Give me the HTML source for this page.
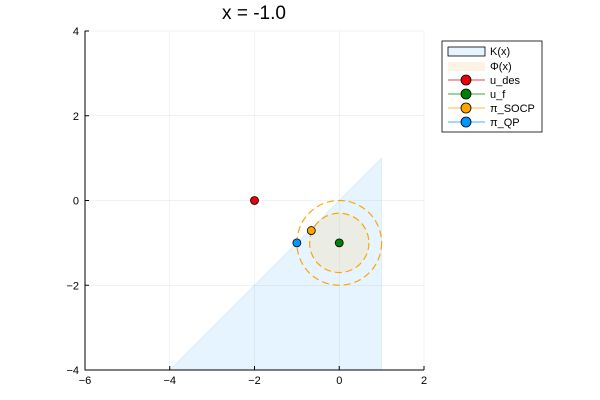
<!DOCTYPE html>
<html><head><meta charset="utf-8"><style>body{margin:0;background:#fff}svg{display:block}text{font-family:"Liberation Sans","DejaVu Sans",sans-serif}</style></head>
<body>
<svg id="chart" width="600" height="400" xmlns="http://www.w3.org/2000/svg"></svg>
<script>
const xTicks=[-6,-4,-2,0,2];
const yTicks=[-4,-2,0,2,4];
const coneX=[-4,1,1];
const coneY=[-4,1,-4];
const circleCenter=[0,-1];
const innerRadius=[0.7];
const outerRadius=[1.0];
const pointNames=["u_des","u_f","π_SOCP","π_QP"];
const pointX=[-2,0,-0.66,-1];
const pointY=[0,-1,-0.71,-1];
const pointColors=["#e8000b","#008000","#ffa500","#0096ff"];
const L=85,R=424,T=31,B=370;
const sx=v=>L+(v+6)/8*(R-L);
const sy=v=>B-(v+4)/8*(B-T);
const svg=document.getElementById('chart');
const NS="http://www.w3.org/2000/svg";
function mk(tag,attrs,parent){const e=document.createElementNS(NS,tag);for(const k in attrs)e.setAttribute(k,attrs[k]);(parent||svg).appendChild(e);return e;}
// grid
xTicks.forEach(t=>{const g=mk('line',{x1:sx(t),x2:sx(t),y1:T,y2:B,stroke:'#000','stroke-opacity':0.1,'stroke-width':0.5});});
yTicks.forEach(t=>{const g=mk('line',{x1:L,x2:R,y1:sy(t),y2:sy(t),stroke:'#000','stroke-opacity':0.1,'stroke-width':0.5});});
// cone
const pts=coneX.map((x,i)=>sx(x)+','+sy(coneY[i])).join(' ');
const cone=mk('polygon',{points:pts,fill:'#0096ff','fill-opacity':0.1,stroke:'#0096ff','stroke-opacity':0.1});


const cx=sx(circleCenter[0]),cy=sy(circleCenter[1]),u=(R-L)/8;
const phi=mk('circle',{cx:cx,cy:cy,r:innerRadius[0]*u,fill:'#f5deb3','fill-opacity':0.35,stroke:'none'});


[innerRadius[0],outerRadius[0]].forEach(r=>{const c=mk('circle',{cx:cx,cy:cy,r:r*u,fill:'none',stroke:'#ffa500','stroke-width':1.2,'stroke-dasharray':'7,4'});});
// axes frame
const ax=mk('path',{d:`M${L},${T}V${B}H${R}`,fill:'none',stroke:'#000','stroke-width':1});


xTicks.forEach(t=>{mk('line',{x1:sx(t),x2:sx(t),y1:B,y2:B-4,stroke:'#000'});const tx=mk('text',{x:sx(t),y:B+14,'font-size':11,'text-anchor':'middle'});tx.textContent=t==0?'0':String(t).replace('-','−');});
yTicks.forEach(t=>{mk('line',{x1:L,x2:L+4,y1:sy(t),y2:sy(t),stroke:'#000'});const tx=mk('text',{x:L-6,y:sy(t)+4,'font-size':11,'text-anchor':'end'});tx.textContent=t==0?'0':String(t).replace('-','−');});
// points
pointX.forEach((x,i)=>{const p=mk('circle',{cx:sx(x),cy:sy(pointY[i]),r:4,fill:pointColors[i],stroke:'#000','stroke-width':0.8});});
const title=mk('text',{x:254,y:19,'font-size':19,'text-anchor':'middle'});
title.textContent='x = -1.0';


// legend
const lg=mk('g',{});


mk('rect',{x:442,y:41,width:100,height:91,fill:'#fff',stroke:'#000','stroke-width':0.8},lg);
const ly=[51,66,80,94,108,122];
mk('rect',{x:448,y:47,width:37,height:9,fill:'#e6f4ff',stroke:'#000','stroke-width':0.8},lg);
mk('rect',{x:448,y:62,width:37,height:9,fill:'#fdf3e5'},lg);
const labels=['K(x)','Φ(x)'].concat(pointNames);
pointNames.forEach((n,i)=>{const y=ly[i+2];mk('line',{x1:448,x2:485,y1:y,y2:y,stroke:pointColors[i],'stroke-width':1.2,'stroke-opacity':0.6},lg);mk('circle',{cx:466,cy:y,r:5,fill:pointColors[i],stroke:'#000','stroke-width':0.8},lg);});
labels.forEach((s,i)=>{const t=mk('text',{x:490,y:ly[i]+4,'font-size':11},lg);t.textContent=s;});
</script>
</body></html>
